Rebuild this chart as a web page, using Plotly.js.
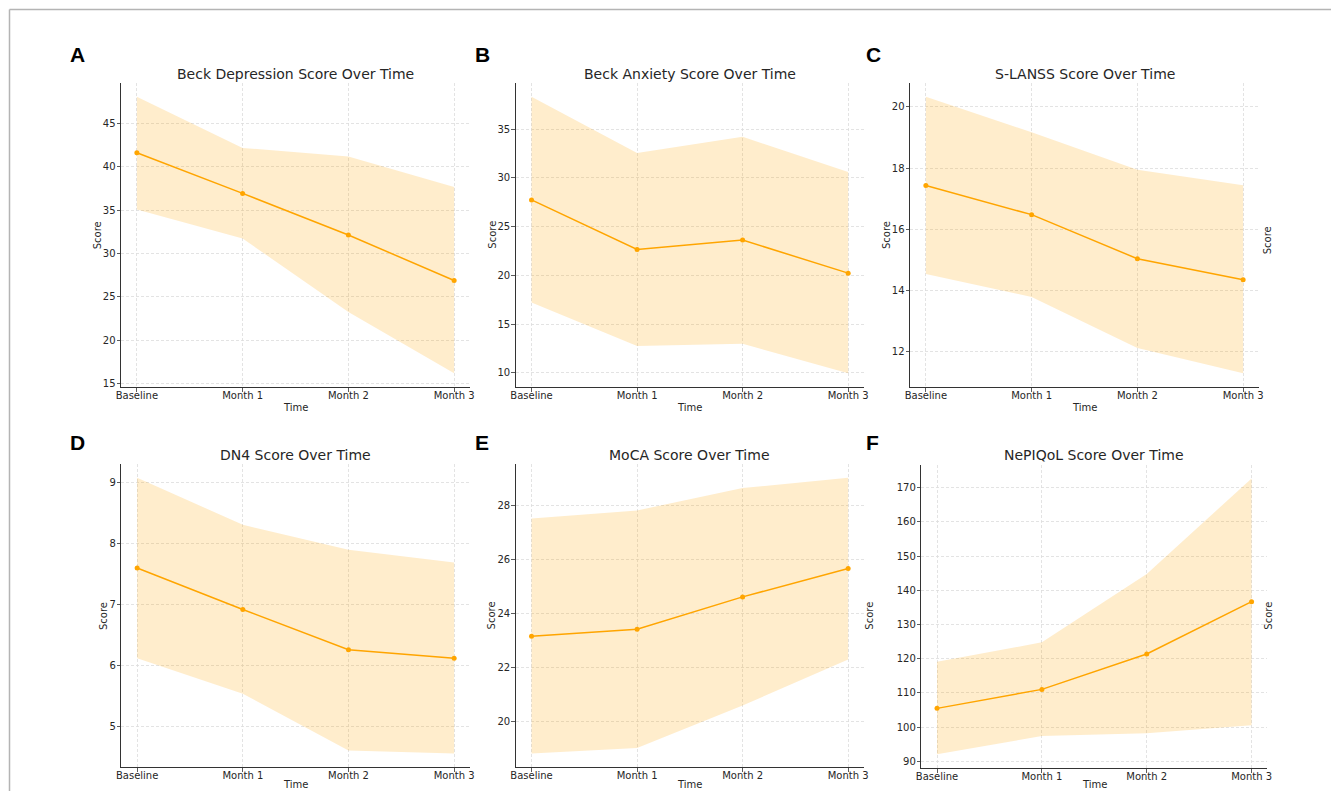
<!DOCTYPE html>
<html>
<head>
<meta charset="utf-8">
<script src="https://cdn.plot.ly/plotly-3.0.1.min.js"></script>
<style>html,body{margin:0;padding:0;background:#fff;}#chart{width:1331px;height:791px;}</style>
</head>
<body>
<div id="chart"></div>
<script>
// ---- data ----
const categories = ["Baseline", "Month 1", "Month 2", "Month 3"];

const titles = [
  "Beck Depression Score Over Time",
  "Beck Anxiety Score Over Time",
  "S-LANSS Score Over Time",
  "DN4 Score Over Time",
  "MoCA Score Over Time",
  "NePIQoL Score Over Time"
];
const panelLetters = ["A", "B", "C", "D", "E", "F"];

const beckDepMean  = [41.65, 36.95, 32.15, 26.9];
const beckDepUpper = [48.1, 42.2, 41.2, 37.7];
const beckDepLower = [35.1, 31.75, 23.25, 16.2];

const beckAnxMean  = [27.73, 22.65, 23.61, 20.22];
const beckAnxUpper = [38.3, 32.53, 34.2, 30.58];
const beckAnxLower = [17.2, 12.74, 12.98, 9.96];

const slanssMean  = [17.43, 16.48, 15.04, 14.35];
const slanssUpper = [20.33, 19.17, 17.95, 17.44];
const slanssLower = [14.54, 13.79, 12.12, 11.3];

const dn4Mean  = [7.60, 6.92, 6.26, 6.12];
const dn4Upper = [9.08, 8.31, 7.90, 7.69];
const dn4Lower = [6.12, 5.54, 4.61, 4.56];

const mocaMean  = [23.14, 23.40, 24.60, 25.65];
const mocaUpper = [27.5, 27.8, 28.63, 29.01];
const mocaLower = [18.8, 19.0, 20.58, 22.28];

const nepiqolMean  = [105.5, 111.05, 121.4, 136.7];
const nepiqolUpper = [119.1, 124.8, 144.8, 172.7];
const nepiqolLower = [92.1, 97.4, 98.2, 100.6];

const yTickStep = [5, 5, 2, 1, 2, 10];

// ---- layout geometry (pixels) ----
const W = 1331, H = 791;
const px = v => v / W;
const py = v => 1 - v / H;
const boxes = [
  {l:121, r:470, t:83, b:387},
  {l:515.7, r:864, t:83, b:387},
  {l:910, r:1259, t:83, b:387},
  {l:121.3, r:470, t:464, b:767.3},
  {l:515.7, r:864, t:464, b:767.3},
  {l:921.3, r:1267.3, t:464.7, b:768}
];
const letterPos = [[77.5,55],[482.4,55],[874,55],[77.8,442.5],[481.8,442.5],[872.8,442]];
const scorePos = [[97.3,235],[491.7,235],[886,235],[103.3,615.7],[491.7,615.7],[870,615.7]];
const titleY = [74.3, 74.3, 74.3, 455, 455, 455];
const timeY = [407.3, 407.3, 407.3, 784, 784, 784];

const series = [
  [beckDepMean, beckDepUpper, beckDepLower],
  [beckAnxMean, beckAnxUpper, beckAnxLower],
  [slanssMean, slanssUpper, slanssLower],
  [dn4Mean, dn4Upper, dn4Lower],
  [mocaMean, mocaUpper, mocaLower],
  [nepiqolMean, nepiqolUpper, nepiqolLower]
];

const FONT = "DejaVu Sans, sans-serif";
const TXT = "#262626";
const ORANGE = "#FFA500";
const FILL = "rgba(255,165,0,0.2)";

const traces = [];
const layout = {
  width: W, height: H,
  margin: {l:0, r:0, t:0, b:0},
  paper_bgcolor: "#fff", plot_bgcolor: "rgba(0,0,0,0)",
  showlegend: false,
  font: {family: FONT, size: 10, color: TXT},
  annotations: [],
  shapes: [
    {type:"line", xref:"paper", yref:"paper", x0:px(9.5), x1:1, y0:py(9.5), y1:py(9.5), line:{color:"#b4b4b4", width:1.5}},
    {type:"line", xref:"paper", yref:"paper", x0:px(9.5), x1:px(9.5), y0:py(9.5), y1:0, line:{color:"#b4b4b4", width:1.5}}
  ]
};

series.forEach((s, i) => {
  const [mean, upper, lower] = s;
  const n = i === 0 ? "" : String(i + 1);
  const xa = "x" + n, ya = "y" + n;
  // band
  traces.push({
    x: categories, y: upper, xaxis: xa, yaxis: ya, type: "scatter", mode: "lines",
    line: {width: 0, color: "rgba(0,0,0,0)"}, hoverinfo: "skip"
  });
  traces.push({
    x: categories, y: lower, xaxis: xa, yaxis: ya, type: "scatter", mode: "lines",
    line: {width: 0, color: "rgba(0,0,0,0)"}, fill: "tonexty", fillcolor: FILL, hoverinfo: "skip"
  });
  // mean
  traces.push({
    x: categories, y: mean, xaxis: xa, yaxis: ya, type: "scatter", mode: "lines+markers",
    line: {color: ORANGE, width: 1.5}, marker: {color: ORANGE, size: 5}
  });

  const all = upper.concat(lower, mean);
  const mn = Math.min(...all), mx = Math.max(...all);
  const pad = (mx - mn) * 0.05;
  const b = boxes[i];
  const axCommon = {
    showline: true, linecolor: "#333", linewidth: 1,
    ticks: "outside", ticklen: 3.5, tickwidth: 0.8, tickcolor: "#333",
    showgrid: true, gridcolor: "#dcdcdc", gridwidth: 0.8, griddash: "3px,2px",
    zeroline: false, tickfont: {family: FONT, size: 10, color: TXT}, fixedrange: true
  };
  layout["xaxis" + n] = Object.assign({}, axCommon, {
    type: "category", domain: [px(b.l), px(b.r)], anchor: ya,
    range: [-0.15, 3.15], categoryorder: "array", categoryarray: categories,
    ticklabelstandoff: -5
  });
  layout["yaxis" + n] = Object.assign({}, axCommon, {
    domain: [py(b.b), py(b.t)], anchor: xa,
    range: [mn - pad, mx + pad], dtick: yTickStep[i], tick0: 0,
    ticklabelstandoff: -1
  });

  const cx = (b.l + b.r) / 2;
  layout.annotations.push(
    {xref:"paper", yref:"paper", x:px(cx), y:py(titleY[i]), text:titles[i], showarrow:false,
     xanchor:"center", yanchor:"middle", font:{family:FONT, size:14, color:TXT}},
    {xref:"paper", yref:"paper", x:px(cx), y:py(timeY[i]), text:"Time", showarrow:false,
     xanchor:"center", yanchor:"middle", font:{family:FONT, size:10, color:TXT}},
    {xref:"paper", yref:"paper", x:px(scorePos[i][0]), y:py(scorePos[i][1]), text:"Score", showarrow:false,
     textangle:-90, xanchor:"center", yanchor:"middle", font:{family:FONT, size:10, color:TXT}},
    {xref:"paper", yref:"paper", x:px(letterPos[i][0]), y:py(letterPos[i][1]), text:"<b>" + panelLetters[i] + "</b>", showarrow:false,
     xanchor:"center", yanchor:"middle", font:{family:"Liberation Sans, Arial, sans-serif", size:21, color:"#000"}}
  );
});

// stray right-side labels present in the original figure
layout.annotations.push(
  {xref:"paper", yref:"paper", x:px(1267.3), y:py(240), text:"Score", showarrow:false,
   textangle:-90, xanchor:"center", yanchor:"middle", font:{family:FONT, size:10, color:TXT}},
  {xref:"paper", yref:"paper", x:px(1269), y:py(615.7), text:"Score", showarrow:false,
   textangle:-90, xanchor:"center", yanchor:"middle", font:{family:FONT, size:10, color:TXT}}
);

Plotly.newPlot("chart", traces, layout, {displayModeBar: false, staticPlot: true});
</script>
</body>
</html>
